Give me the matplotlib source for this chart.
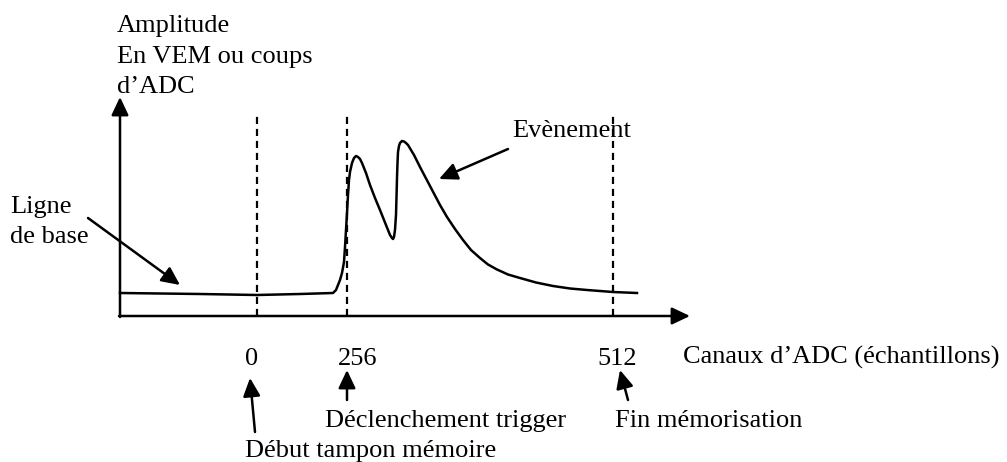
import matplotlib.pyplot as plt

# schema: signal ADC avec ligne de base et evenement (coordonnees du dessin)
curve_x = [120, 200, 257, 300, 333, 336, 338, 340, 342, 344, 345, 346, 347, 348,
           349, 350, 352, 354, 356, 358, 360, 362, 366, 370, 375, 380, 384, 388,
           390, 392, 393, 394, 395, 396, 396.5, 397, 397.5, 398, 399, 400, 402,
           404, 406, 408, 414, 420, 430, 440, 447, 455, 463, 471, 480, 488, 497,
           508, 520, 536, 553, 570, 587, 600, 613, 637]
curve_y = [293, 294, 295, 294, 293, 290, 285, 280, 273, 262, 247, 230, 213, 195,
           180, 172, 163, 158, 156, 157, 159, 163, 173, 185, 198, 210, 220, 230,
           235, 238, 239, 237, 230, 215, 197, 178, 163, 152, 146, 143, 141,
           141.5, 143, 145, 155, 167, 186, 205, 217, 229, 240, 250, 258, 264.5,
           269.5, 274.5, 278, 282.5, 286, 288.5, 290, 291, 292, 293]

channel_x = [257, 347, 613]
channel_labels = ['0', '256', '512']
label_x = [252, 358, 617]

axis_origin = (120, 316)
x_axis_end = 690
y_axis_top = 97
dash_top = 113

plt.rcParams['font.family'] = ['Liberation Serif', 'DejaVu Serif']
fs = 19

fig = plt.figure(figsize=(10.07, 4.62), dpi=100)
ax = fig.add_axes([0, 0, 1, 1])
ax.set_xlim(0, 1007)
ax.set_ylim(462, 0)
ax.axis('off')


def arrow(start, tip, lw=1.8):
    ax.annotate('', xy=tip, xytext=start,
                arrowprops=dict(arrowstyle='-|>,head_length=11,head_width=5.2',
                                mutation_scale=1, lw=lw, color='black',
                                shrinkA=0, shrinkB=0))


# axes du schema
arrow((axis_origin[0] - 1, axis_origin[1]), (x_axis_end, axis_origin[1]))
arrow((axis_origin[0], axis_origin[1] + 1), (axis_origin[0], y_axis_top))

# lignes pointillees (0, 256, 512)
for cx in channel_x:
    ax.plot([cx, cx], [axis_origin[1], dash_top], color='black', lw=1.6,
            dashes=(3.2, 2.2))

# signal
ax.plot(curve_x, curve_y, color='black', lw=1.8, solid_joinstyle='round')

# labels des canaux
for lx, lab in zip(label_x, channel_labels):
    ax.text(lx, 365, lab, fontsize=fs, ha='center', va='baseline')

ax.text(683, 364, "Canaux d\u2019ADC (échantillons)", fontsize=fs, va='baseline')

# titre axe y
ax.text(117, 32, "Amplitude", fontsize=fs, va='baseline')
ax.text(117, 63, "En VEM ou coups", fontsize=fs, va='baseline')
ax.text(117, 93, "d\u2019ADC", fontsize=fs, va='baseline')

# annotations
ax.text(512, 137, "Evènement", fontsize=fs, va='baseline')
arrow((508, 149), (439, 179))

ax.text(10, 213, "Ligne", fontsize=fs, va='baseline')
ax.text(10, 243, "de base", fontsize=fs, va='baseline')
arrow((88, 218), (180, 285))

ax.text(325, 427, "Déclenchement trigger", fontsize=fs, va='baseline')
arrow((347, 400), (347, 370))

ax.text(615, 427, "Fin mémorisation", fontsize=fs, va='baseline')
arrow((628, 400), (620, 370))

ax.text(245, 457, "Début tampon mémoire", fontsize=fs, va='baseline')
arrow((255, 432), (250, 378))

fig.savefig('out.png', dpi=100)
